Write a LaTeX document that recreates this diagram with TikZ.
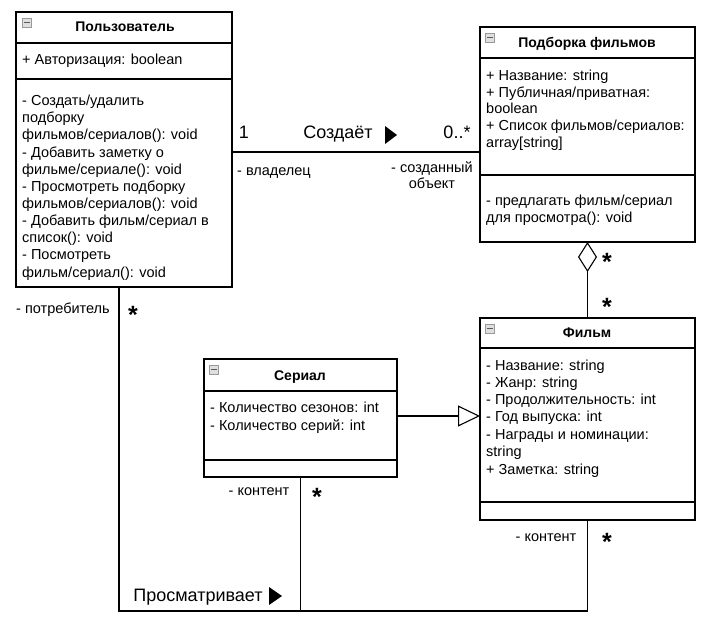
\documentclass[tikz,border=0pt]{standalone}
\usepackage{fontspec}
\setmainfont{Liberation Sans}
\usetikzlibrary{calc,arrows.meta}
\tikzset{
  cls/.style={draw, line width=1.1pt, anchor=north west, inner sep=0pt, outer sep=0pt},
  sepline/.style={line width=1.1pt},
  mem/.style={anchor=west, inner sep=0pt, yshift=-1.5pt, font=\fontsize{14.5}{16}\selectfont, text height=10.5pt, text depth=3.2pt},
  hdr/.style={inner sep=0pt, yshift=-1pt, font=\bfseries\fontsize{14}{16}\selectfont, text height=10.5pt, text depth=3.2pt},
  lbl/.style={inner sep=0pt, yshift=-1pt, font=\fontsize{14.5}{16}\selectfont, text height=10.5pt, text depth=3.2pt},
  big/.style={inner sep=0pt, font=\fontsize{18}{19}\selectfont, text height=13pt, text depth=3.8pt},
  mult/.style={inner sep=0pt, anchor=base, font=\bfseries\fontsize{25}{25}\selectfont},
  icon/.style={draw=gray!80, fill=gray!25, line width=0.6pt, minimum size=9pt, inner sep=0pt, anchor=north west},
  conn/.style={line width=1.1pt},
  tri/.style={fill=black},
}
\begin{document}
\begin{tikzpicture}[x=1pt,y=-1pt]
\useasboundingbox[fill=white] (0,0) rectangle (713,626);

% ---------- Пользователь ----------
\node[cls, minimum width=216pt, minimum height=275pt] (user) at (16,12) {};
\draw[sepline] (16,43) -- (232,43);
\draw[sepline] (16,79) -- (232,79);
\node[icon] (ui) at (22,18) {};
\draw[gray!70!black, line width=0.8pt] ($(ui.west)+(2,0)$) -- ($(ui.east)+(-2,0)$);
\node[hdr] (uh) at (125,27) {Пользователь};
\node[mem] (ua1) at (22,59) {+ Авторизация: boolean};
\node[mem] (um1) at (22,100) {- Создать/удалить};
\node[mem] (um2) at (22,117) {подборку};
\node[mem] (um3) at (22,134) {фильмов/сериалов(): void};
\node[mem] (um4) at (22,152) {- Добавить заметку о};
\node[mem] (um5) at (22,169) {фильме/сериале(): void};
\node[mem] (um6) at (22,186) {- Просмотреть подборку};
\node[mem] (um7) at (22,203) {фильмов/сериалов(): void};
\node[mem] (um8) at (22,220) {- Добавить фильм/сериал в};
\node[mem] (um9) at (22,237) {список(): void};
\node[mem] (um10) at (22,254) {- Посмотреть};
\node[mem] (um11) at (22,272) {фильм/сериал(): void};

% ---------- Подборка фильмов ----------
\node[cls, minimum width=215pt, minimum height=215pt] (coll) at (480,27) {};
\draw[sepline] (480,58) -- (695,58);
\draw[sepline] (480,175) -- (695,175);
\node[icon] (ci) at (485,33) {};
\draw[gray!70!black, line width=0.8pt] ($(ci.west)+(2,0)$) -- ($(ci.east)+(-2,0)$);
\node[hdr] (ch) at (587,43) {Подборка фильмов};
\node[mem] (ca1) at (486,75) {+ Название: string};
\node[mem] (ca2) at (486,92) {+ Публичная/приватная:};
\node[mem] (ca3) at (486,108) {boolean};
\node[mem] (ca4) at (486,125) {+ Список фильмов/сериалов:};
\node[mem] (ca5) at (486,142) {array[string]};
\node[mem] (cm1) at (486,200) {- предлагать фильм/сериал};
\node[mem] (cm2) at (486,217) {для просмотра(): void};

% ---------- Фильм ----------
\node[cls, minimum width=215pt, minimum height=202pt] (film) at (480,318) {};
\draw[sepline] (480,348) -- (695,348);
\draw[sepline] (480,502) -- (695,502);
\node[icon] (fi) at (485,324) {};
\draw[gray!70!black, line width=0.8pt] ($(fi.west)+(2,0)$) -- ($(fi.east)+(-2,0)$);
\node[hdr] (fh) at (587,333) {Фильм};
\node[mem] (fa1) at (486,365) {- Название: string};
\node[mem] (fa2) at (486,382) {- Жанр: string};
\node[mem] (fa3) at (486,399) {- Продолжительность: int};
\node[mem] (fa4) at (486,416) {- Год выпуска: int};
\node[mem] (fa5) at (486,434) {- Награды и номинации:};
\node[mem] (fa6) at (486,451) {string};
\node[mem] (fa7) at (486,469) {+ Заметка: string};

% ---------- Сериал ----------
\node[cls, minimum width=193pt, minimum height=118pt] (serial) at (204,359) {};
\draw[sepline] (204,391) -- (397,391);
\draw[sepline] (204,460) -- (397,460);
\node[icon] (si) at (209,365) {};
\draw[gray!70!black, line width=0.8pt] ($(si.west)+(2,0)$) -- ($(si.east)+(-2,0)$);
\node[hdr] (sh) at (300,376) {Сериал};
\node[mem] (sa1) at (210,407) {- Количество сезонов: int};
\node[mem] (sa2) at (210,425) {- Количество серий: int};

% ---------- Connectors ----------
% Создаёт
\draw[conn] ($(user.north east)+(0,140)$) -- ($(coll.north west)+(0,125)$);
\node[big] (m1) at (244,134) {1};
\node[big] (an1) at (338,134) {Создаёт};
\fill[tri] (385,126) -- (397,135) -- (385,144) -- cycle;
\node[big] (m2) at (457,134) {0..*};
\node[lbl, anchor=west] (r1) at (237,171) {- владелец};
\node[lbl, align=center, text height=, text depth=] (r2) at (432,174) {- созданный\\объект};

% aggregation
\draw[conn, -{Diamond[open, width=19pt, length=30pt, line width=1.1pt]}] (film.north) -- (coll.south);
\node[mult] (m3) at (607,270) {*};
\node[mult] (m4) at (607,315) {*};

% generalization
\draw[conn, -{Triangle[open, width=21pt, length=22pt, line width=1.1pt]}] ($(serial.north east)+(0,57)$) -- ($(film.north west)+(0,98)$);

% Просматривает
\coordinate (ubot) at ($(user.south west)+(103,0)$);
\coordinate (jn) at (301,611);
\draw[conn] (ubot) -- (ubot |- jn) -- (film.south |- jn) -- (film.south);
\draw[conn] (serial.south) -- (serial.south |- jn);
\node[lbl, anchor=west] (r3) at (16,309) {- потребитель};
\node[mult] (m5) at (133,323) {*};
\node[lbl] (r4) at (259,491) {- контент};
\node[mult] (m6) at (317,505) {*};
\node[lbl] (r5) at (546,537) {- контент};
\node[mult] (m7) at (607,550) {*};
\node[big] (an2) at (198,597) {Просматривает};
\fill[tri] (269,587) -- (282,596) -- (269,605) -- cycle;
\end{tikzpicture}
\end{document}
